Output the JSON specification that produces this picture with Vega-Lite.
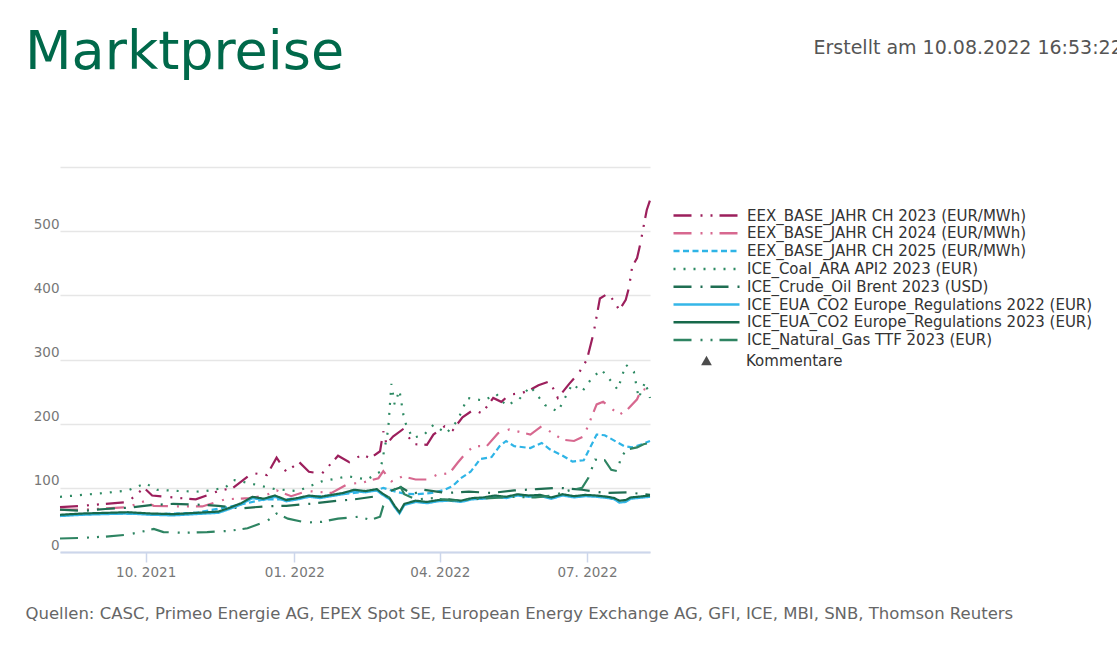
{
  "$schema": "https://vega.github.io/schema/vega-lite/v6.json",
  "width": 590,
  "height": 385,
  "autosize": {"type": "none"},
  "padding": {"left": 60, "top": 167, "right": 467, "bottom": 104},
  "background": "white",
  "title": {"text": "Marktpreise", "anchor": "start", "frame": "group", "dx": -35, "offset": -85, "baseline": "alphabetic", "font": "DejaVu Sans", "fontSize": 54, "fontWeight": "normal", "color": "#00694a"},
  "config": {"view": {"stroke": null}, "font": "DejaVu Sans"},
  "data": {"values": [
    {"s":"EEX_BASE_JAHR CH 2023 (EUR/MWh)","d":"2021-08-09","v":70},
    {"s":"EEX_BASE_JAHR CH 2023 (EUR/MWh)","d":"2021-08-23","v":72},
    {"s":"EEX_BASE_JAHR CH 2023 (EUR/MWh)","d":"2021-09-06","v":75},
    {"s":"EEX_BASE_JAHR CH 2023 (EUR/MWh)","d":"2021-09-20","v":78},
    {"s":"EEX_BASE_JAHR CH 2023 (EUR/MWh)","d":"2021-09-30","v":100},
    {"s":"EEX_BASE_JAHR CH 2023 (EUR/MWh)","d":"2021-10-05","v":88},
    {"s":"EEX_BASE_JAHR CH 2023 (EUR/MWh)","d":"2021-10-18","v":85},
    {"s":"EEX_BASE_JAHR CH 2023 (EUR/MWh)","d":"2021-11-01","v":82},
    {"s":"EEX_BASE_JAHR CH 2023 (EUR/MWh)","d":"2021-11-15","v":95},
    {"s":"EEX_BASE_JAHR CH 2023 (EUR/MWh)","d":"2021-11-24","v":100},
    {"s":"EEX_BASE_JAHR CH 2023 (EUR/MWh)","d":"2021-12-06","v":123},
    {"s":"EEX_BASE_JAHR CH 2023 (EUR/MWh)","d":"2021-12-15","v":120},
    {"s":"EEX_BASE_JAHR CH 2023 (EUR/MWh)","d":"2021-12-21","v":147},
    {"s":"EEX_BASE_JAHR CH 2023 (EUR/MWh)","d":"2021-12-27","v":125},
    {"s":"EEX_BASE_JAHR CH 2023 (EUR/MWh)","d":"2022-01-04","v":140},
    {"s":"EEX_BASE_JAHR CH 2023 (EUR/MWh)","d":"2022-01-10","v":125},
    {"s":"EEX_BASE_JAHR CH 2023 (EUR/MWh)","d":"2022-01-18","v":122},
    {"s":"EEX_BASE_JAHR CH 2023 (EUR/MWh)","d":"2022-01-28","v":150},
    {"s":"EEX_BASE_JAHR CH 2023 (EUR/MWh)","d":"2022-02-04","v":140},
    {"s":"EEX_BASE_JAHR CH 2023 (EUR/MWh)","d":"2022-02-12","v":152},
    {"s":"EEX_BASE_JAHR CH 2023 (EUR/MWh)","d":"2022-02-17","v":146},
    {"s":"EEX_BASE_JAHR CH 2023 (EUR/MWh)","d":"2022-02-23","v":157},
    {"s":"EEX_BASE_JAHR CH 2023 (EUR/MWh)","d":"2022-02-25","v":188},
    {"s":"EEX_BASE_JAHR CH 2023 (EUR/MWh)","d":"2022-02-27","v":168},
    {"s":"EEX_BASE_JAHR CH 2023 (EUR/MWh)","d":"2022-03-03","v":180},
    {"s":"EEX_BASE_JAHR CH 2023 (EUR/MWh)","d":"2022-03-09","v":191},
    {"s":"EEX_BASE_JAHR CH 2023 (EUR/MWh)","d":"2022-03-16","v":168},
    {"s":"EEX_BASE_JAHR CH 2023 (EUR/MWh)","d":"2022-03-24","v":167},
    {"s":"EEX_BASE_JAHR CH 2023 (EUR/MWh)","d":"2022-03-28","v":183},
    {"s":"EEX_BASE_JAHR CH 2023 (EUR/MWh)","d":"2022-04-04","v":196},
    {"s":"EEX_BASE_JAHR CH 2023 (EUR/MWh)","d":"2022-04-09","v":190},
    {"s":"EEX_BASE_JAHR CH 2023 (EUR/MWh)","d":"2022-04-15","v":210},
    {"s":"EEX_BASE_JAHR CH 2023 (EUR/MWh)","d":"2022-04-22","v":222},
    {"s":"EEX_BASE_JAHR CH 2023 (EUR/MWh)","d":"2022-04-27","v":216},
    {"s":"EEX_BASE_JAHR CH 2023 (EUR/MWh)","d":"2022-05-04","v":240},
    {"s":"EEX_BASE_JAHR CH 2023 (EUR/MWh)","d":"2022-05-09","v":234},
    {"s":"EEX_BASE_JAHR CH 2023 (EUR/MWh)","d":"2022-05-14","v":245},
    {"s":"EEX_BASE_JAHR CH 2023 (EUR/MWh)","d":"2022-05-22","v":248},
    {"s":"EEX_BASE_JAHR CH 2023 (EUR/MWh)","d":"2022-05-27","v":253},
    {"s":"EEX_BASE_JAHR CH 2023 (EUR/MWh)","d":"2022-06-01","v":260},
    {"s":"EEX_BASE_JAHR CH 2023 (EUR/MWh)","d":"2022-06-08","v":266},
    {"s":"EEX_BASE_JAHR CH 2023 (EUR/MWh)","d":"2022-06-13","v":240},
    {"s":"EEX_BASE_JAHR CH 2023 (EUR/MWh)","d":"2022-06-20","v":262},
    {"s":"EEX_BASE_JAHR CH 2023 (EUR/MWh)","d":"2022-06-26","v":279},
    {"s":"EEX_BASE_JAHR CH 2023 (EUR/MWh)","d":"2022-07-01","v":300},
    {"s":"EEX_BASE_JAHR CH 2023 (EUR/MWh)","d":"2022-07-05","v":340},
    {"s":"EEX_BASE_JAHR CH 2023 (EUR/MWh)","d":"2022-07-09","v":395},
    {"s":"EEX_BASE_JAHR CH 2023 (EUR/MWh)","d":"2022-07-14","v":403},
    {"s":"EEX_BASE_JAHR CH 2023 (EUR/MWh)","d":"2022-07-18","v":390},
    {"s":"EEX_BASE_JAHR CH 2023 (EUR/MWh)","d":"2022-07-21","v":377},
    {"s":"EEX_BASE_JAHR CH 2023 (EUR/MWh)","d":"2022-07-25","v":393},
    {"s":"EEX_BASE_JAHR CH 2023 (EUR/MWh)","d":"2022-07-27","v":412},
    {"s":"EEX_BASE_JAHR CH 2023 (EUR/MWh)","d":"2022-07-29","v":445},
    {"s":"EEX_BASE_JAHR CH 2023 (EUR/MWh)","d":"2022-08-01","v":458},
    {"s":"EEX_BASE_JAHR CH 2023 (EUR/MWh)","d":"2022-08-03","v":480},
    {"s":"EEX_BASE_JAHR CH 2023 (EUR/MWh)","d":"2022-08-05","v":507},
    {"s":"EEX_BASE_JAHR CH 2023 (EUR/MWh)","d":"2022-08-07","v":533},
    {"s":"EEX_BASE_JAHR CH 2023 (EUR/MWh)","d":"2022-08-09","v":548},

    {"s":"EEX_BASE_JAHR CH 2024 (EUR/MWh)","d":"2021-08-09","v":66},
    {"s":"EEX_BASE_JAHR CH 2024 (EUR/MWh)","d":"2021-08-23","v":66},
    {"s":"EEX_BASE_JAHR CH 2024 (EUR/MWh)","d":"2021-09-06","v":68},
    {"s":"EEX_BASE_JAHR CH 2024 (EUR/MWh)","d":"2021-09-20","v":70},
    {"s":"EEX_BASE_JAHR CH 2024 (EUR/MWh)","d":"2021-09-30","v":79},
    {"s":"EEX_BASE_JAHR CH 2024 (EUR/MWh)","d":"2021-10-06","v":72},
    {"s":"EEX_BASE_JAHR CH 2024 (EUR/MWh)","d":"2021-10-20","v":71},
    {"s":"EEX_BASE_JAHR CH 2024 (EUR/MWh)","d":"2021-11-05","v":71},
    {"s":"EEX_BASE_JAHR CH 2024 (EUR/MWh)","d":"2021-11-19","v":82},
    {"s":"EEX_BASE_JAHR CH 2024 (EUR/MWh)","d":"2021-12-04","v":84},
    {"s":"EEX_BASE_JAHR CH 2024 (EUR/MWh)","d":"2021-12-14","v":88},
    {"s":"EEX_BASE_JAHR CH 2024 (EUR/MWh)","d":"2021-12-21","v":96},
    {"s":"EEX_BASE_JAHR CH 2024 (EUR/MWh)","d":"2021-12-30","v":87},
    {"s":"EEX_BASE_JAHR CH 2024 (EUR/MWh)","d":"2022-01-09","v":95},
    {"s":"EEX_BASE_JAHR CH 2024 (EUR/MWh)","d":"2022-01-24","v":92},
    {"s":"EEX_BASE_JAHR CH 2024 (EUR/MWh)","d":"2022-02-03","v":106},
    {"s":"EEX_BASE_JAHR CH 2024 (EUR/MWh)","d":"2022-02-12","v":108},
    {"s":"EEX_BASE_JAHR CH 2024 (EUR/MWh)","d":"2022-02-22","v":115},
    {"s":"EEX_BASE_JAHR CH 2024 (EUR/MWh)","d":"2022-02-25","v":126},
    {"s":"EEX_BASE_JAHR CH 2024 (EUR/MWh)","d":"2022-03-02","v":110},
    {"s":"EEX_BASE_JAHR CH 2024 (EUR/MWh)","d":"2022-03-09","v":118},
    {"s":"EEX_BASE_JAHR CH 2024 (EUR/MWh)","d":"2022-03-17","v":113},
    {"s":"EEX_BASE_JAHR CH 2024 (EUR/MWh)","d":"2022-03-24","v":113},
    {"s":"EEX_BASE_JAHR CH 2024 (EUR/MWh)","d":"2022-03-30","v":120},
    {"s":"EEX_BASE_JAHR CH 2024 (EUR/MWh)","d":"2022-04-07","v":123},
    {"s":"EEX_BASE_JAHR CH 2024 (EUR/MWh)","d":"2022-04-12","v":139},
    {"s":"EEX_BASE_JAHR CH 2024 (EUR/MWh)","d":"2022-04-17","v":154},
    {"s":"EEX_BASE_JAHR CH 2024 (EUR/MWh)","d":"2022-04-22","v":165},
    {"s":"EEX_BASE_JAHR CH 2024 (EUR/MWh)","d":"2022-04-30","v":165},
    {"s":"EEX_BASE_JAHR CH 2024 (EUR/MWh)","d":"2022-05-07","v":185},
    {"s":"EEX_BASE_JAHR CH 2024 (EUR/MWh)","d":"2022-05-14","v":191},
    {"s":"EEX_BASE_JAHR CH 2024 (EUR/MWh)","d":"2022-05-19","v":188},
    {"s":"EEX_BASE_JAHR CH 2024 (EUR/MWh)","d":"2022-05-27","v":183},
    {"s":"EEX_BASE_JAHR CH 2024 (EUR/MWh)","d":"2022-06-03","v":196},
    {"s":"EEX_BASE_JAHR CH 2024 (EUR/MWh)","d":"2022-06-08","v":188},
    {"s":"EEX_BASE_JAHR CH 2024 (EUR/MWh)","d":"2022-06-16","v":175},
    {"s":"EEX_BASE_JAHR CH 2024 (EUR/MWh)","d":"2022-06-23","v":173},
    {"s":"EEX_BASE_JAHR CH 2024 (EUR/MWh)","d":"2022-06-29","v":180},
    {"s":"EEX_BASE_JAHR CH 2024 (EUR/MWh)","d":"2022-07-03","v":205},
    {"s":"EEX_BASE_JAHR CH 2024 (EUR/MWh)","d":"2022-07-07","v":230},
    {"s":"EEX_BASE_JAHR CH 2024 (EUR/MWh)","d":"2022-07-11","v":234},
    {"s":"EEX_BASE_JAHR CH 2024 (EUR/MWh)","d":"2022-07-17","v":222},
    {"s":"EEX_BASE_JAHR CH 2024 (EUR/MWh)","d":"2022-07-21","v":214},
    {"s":"EEX_BASE_JAHR CH 2024 (EUR/MWh)","d":"2022-07-26","v":222},
    {"s":"EEX_BASE_JAHR CH 2024 (EUR/MWh)","d":"2022-08-01","v":238},
    {"s":"EEX_BASE_JAHR CH 2024 (EUR/MWh)","d":"2022-08-04","v":255},
    {"s":"EEX_BASE_JAHR CH 2024 (EUR/MWh)","d":"2022-08-09","v":250},

    {"s":"EEX_BASE_JAHR CH 2025 (EUR/MWh)","d":"2021-08-09","v":57},
    {"s":"EEX_BASE_JAHR CH 2025 (EUR/MWh)","d":"2021-09-06","v":60},
    {"s":"EEX_BASE_JAHR CH 2025 (EUR/MWh)","d":"2021-10-04","v":59},
    {"s":"EEX_BASE_JAHR CH 2025 (EUR/MWh)","d":"2021-11-01","v":61},
    {"s":"EEX_BASE_JAHR CH 2025 (EUR/MWh)","d":"2021-11-29","v":74},
    {"s":"EEX_BASE_JAHR CH 2025 (EUR/MWh)","d":"2021-12-13","v":82},
    {"s":"EEX_BASE_JAHR CH 2025 (EUR/MWh)","d":"2021-12-27","v":82},
    {"s":"EEX_BASE_JAHR CH 2025 (EUR/MWh)","d":"2022-01-10","v":86},
    {"s":"EEX_BASE_JAHR CH 2025 (EUR/MWh)","d":"2022-01-24","v":88},
    {"s":"EEX_BASE_JAHR CH 2025 (EUR/MWh)","d":"2022-02-07","v":92},
    {"s":"EEX_BASE_JAHR CH 2025 (EUR/MWh)","d":"2022-02-21","v":96},
    {"s":"EEX_BASE_JAHR CH 2025 (EUR/MWh)","d":"2022-02-25","v":100},
    {"s":"EEX_BASE_JAHR CH 2025 (EUR/MWh)","d":"2022-03-03","v":95},
    {"s":"EEX_BASE_JAHR CH 2025 (EUR/MWh)","d":"2022-03-10","v":91},
    {"s":"EEX_BASE_JAHR CH 2025 (EUR/MWh)","d":"2022-03-17","v":90},
    {"s":"EEX_BASE_JAHR CH 2025 (EUR/MWh)","d":"2022-03-27","v":92},
    {"s":"EEX_BASE_JAHR CH 2025 (EUR/MWh)","d":"2022-04-04","v":97},
    {"s":"EEX_BASE_JAHR CH 2025 (EUR/MWh)","d":"2022-04-09","v":103},
    {"s":"EEX_BASE_JAHR CH 2025 (EUR/MWh)","d":"2022-04-14","v":115},
    {"s":"EEX_BASE_JAHR CH 2025 (EUR/MWh)","d":"2022-04-20","v":125},
    {"s":"EEX_BASE_JAHR CH 2025 (EUR/MWh)","d":"2022-04-26","v":145},
    {"s":"EEX_BASE_JAHR CH 2025 (EUR/MWh)","d":"2022-05-03","v":148},
    {"s":"EEX_BASE_JAHR CH 2025 (EUR/MWh)","d":"2022-05-08","v":165},
    {"s":"EEX_BASE_JAHR CH 2025 (EUR/MWh)","d":"2022-05-12","v":173},
    {"s":"EEX_BASE_JAHR CH 2025 (EUR/MWh)","d":"2022-05-17","v":165},
    {"s":"EEX_BASE_JAHR CH 2025 (EUR/MWh)","d":"2022-05-27","v":162},
    {"s":"EEX_BASE_JAHR CH 2025 (EUR/MWh)","d":"2022-06-03","v":170},
    {"s":"EEX_BASE_JAHR CH 2025 (EUR/MWh)","d":"2022-06-08","v":160},
    {"s":"EEX_BASE_JAHR CH 2025 (EUR/MWh)","d":"2022-06-16","v":150},
    {"s":"EEX_BASE_JAHR CH 2025 (EUR/MWh)","d":"2022-06-22","v":141},
    {"s":"EEX_BASE_JAHR CH 2025 (EUR/MWh)","d":"2022-06-29","v":143},
    {"s":"EEX_BASE_JAHR CH 2025 (EUR/MWh)","d":"2022-07-03","v":163},
    {"s":"EEX_BASE_JAHR CH 2025 (EUR/MWh)","d":"2022-07-07","v":183},
    {"s":"EEX_BASE_JAHR CH 2025 (EUR/MWh)","d":"2022-07-12","v":182},
    {"s":"EEX_BASE_JAHR CH 2025 (EUR/MWh)","d":"2022-07-19","v":172},
    {"s":"EEX_BASE_JAHR CH 2025 (EUR/MWh)","d":"2022-07-24","v":165},
    {"s":"EEX_BASE_JAHR CH 2025 (EUR/MWh)","d":"2022-07-29","v":163},
    {"s":"EEX_BASE_JAHR CH 2025 (EUR/MWh)","d":"2022-08-04","v":168},
    {"s":"EEX_BASE_JAHR CH 2025 (EUR/MWh)","d":"2022-08-09","v":173},

    {"s":"ICE_Coal_ARA API2 2023 (EUR)","d":"2021-08-09","v":86},
    {"s":"ICE_Coal_ARA API2 2023 (EUR)","d":"2021-08-23","v":89},
    {"s":"ICE_Coal_ARA API2 2023 (EUR)","d":"2021-09-06","v":92},
    {"s":"ICE_Coal_ARA API2 2023 (EUR)","d":"2021-09-20","v":96},
    {"s":"ICE_Coal_ARA API2 2023 (EUR)","d":"2021-10-01","v":107},
    {"s":"ICE_Coal_ARA API2 2023 (EUR)","d":"2021-10-08","v":97},
    {"s":"ICE_Coal_ARA API2 2023 (EUR)","d":"2021-10-22","v":95},
    {"s":"ICE_Coal_ARA API2 2023 (EUR)","d":"2021-11-05","v":94},
    {"s":"ICE_Coal_ARA API2 2023 (EUR)","d":"2021-11-19","v":100},
    {"s":"ICE_Coal_ARA API2 2023 (EUR)","d":"2021-11-25","v":112},
    {"s":"ICE_Coal_ARA API2 2023 (EUR)","d":"2021-12-08","v":105},
    {"s":"ICE_Coal_ARA API2 2023 (EUR)","d":"2021-12-20","v":98},
    {"s":"ICE_Coal_ARA API2 2023 (EUR)","d":"2022-01-03","v":95},
    {"s":"ICE_Coal_ARA API2 2023 (EUR)","d":"2022-01-18","v":110},
    {"s":"ICE_Coal_ARA API2 2023 (EUR)","d":"2022-02-03","v":118},
    {"s":"ICE_Coal_ARA API2 2023 (EUR)","d":"2022-02-15","v":113},
    {"s":"ICE_Coal_ARA API2 2023 (EUR)","d":"2022-02-23","v":125},
    {"s":"ICE_Coal_ARA API2 2023 (EUR)","d":"2022-02-28","v":190},
    {"s":"ICE_Coal_ARA API2 2023 (EUR)","d":"2022-03-02","v":262},
    {"s":"ICE_Coal_ARA API2 2023 (EUR)","d":"2022-03-04","v":230},
    {"s":"ICE_Coal_ARA API2 2023 (EUR)","d":"2022-03-07","v":252},
    {"s":"ICE_Coal_ARA API2 2023 (EUR)","d":"2022-03-10","v":205},
    {"s":"ICE_Coal_ARA API2 2023 (EUR)","d":"2022-03-15","v":178},
    {"s":"ICE_Coal_ARA API2 2023 (EUR)","d":"2022-03-22","v":182},
    {"s":"ICE_Coal_ARA API2 2023 (EUR)","d":"2022-03-28","v":198},
    {"s":"ICE_Coal_ARA API2 2023 (EUR)","d":"2022-04-05","v":185},
    {"s":"ICE_Coal_ARA API2 2023 (EUR)","d":"2022-04-12","v":205},
    {"s":"ICE_Coal_ARA API2 2023 (EUR)","d":"2022-04-18","v":240},
    {"s":"ICE_Coal_ARA API2 2023 (EUR)","d":"2022-04-28","v":236},
    {"s":"ICE_Coal_ARA API2 2023 (EUR)","d":"2022-05-06","v":246},
    {"s":"ICE_Coal_ARA API2 2023 (EUR)","d":"2022-05-12","v":228},
    {"s":"ICE_Coal_ARA API2 2023 (EUR)","d":"2022-05-20","v":238},
    {"s":"ICE_Coal_ARA API2 2023 (EUR)","d":"2022-05-27","v":258},
    {"s":"ICE_Coal_ARA API2 2023 (EUR)","d":"2022-06-05","v":229},
    {"s":"ICE_Coal_ARA API2 2023 (EUR)","d":"2022-06-13","v":219},
    {"s":"ICE_Coal_ARA API2 2023 (EUR)","d":"2022-06-22","v":262},
    {"s":"ICE_Coal_ARA API2 2023 (EUR)","d":"2022-06-28","v":250},
    {"s":"ICE_Coal_ARA API2 2023 (EUR)","d":"2022-07-04","v":271},
    {"s":"ICE_Coal_ARA API2 2023 (EUR)","d":"2022-07-10","v":284},
    {"s":"ICE_Coal_ARA API2 2023 (EUR)","d":"2022-07-16","v":266},
    {"s":"ICE_Coal_ARA API2 2023 (EUR)","d":"2022-07-20","v":253},
    {"s":"ICE_Coal_ARA API2 2023 (EUR)","d":"2022-07-25","v":292},
    {"s":"ICE_Coal_ARA API2 2023 (EUR)","d":"2022-07-30","v":281},
    {"s":"ICE_Coal_ARA API2 2023 (EUR)","d":"2022-08-02","v":240},
    {"s":"ICE_Coal_ARA API2 2023 (EUR)","d":"2022-08-06","v":265},
    {"s":"ICE_Coal_ARA API2 2023 (EUR)","d":"2022-08-09","v":240},

    {"s":"ICE_Crude_Oil Brent 2023 (USD)","d":"2021-08-09","v":66},
    {"s":"ICE_Crude_Oil Brent 2023 (USD)","d":"2021-08-23","v":64},
    {"s":"ICE_Crude_Oil Brent 2023 (USD)","d":"2021-09-06","v":67},
    {"s":"ICE_Crude_Oil Brent 2023 (USD)","d":"2021-09-20","v":69},
    {"s":"ICE_Crude_Oil Brent 2023 (USD)","d":"2021-10-04","v":73},
    {"s":"ICE_Crude_Oil Brent 2023 (USD)","d":"2021-10-18","v":75},
    {"s":"ICE_Crude_Oil Brent 2023 (USD)","d":"2021-11-01","v":74},
    {"s":"ICE_Crude_Oil Brent 2023 (USD)","d":"2021-11-15","v":72},
    {"s":"ICE_Crude_Oil Brent 2023 (USD)","d":"2021-11-29","v":68},
    {"s":"ICE_Crude_Oil Brent 2023 (USD)","d":"2021-12-13","v":71},
    {"s":"ICE_Crude_Oil Brent 2023 (USD)","d":"2021-12-27","v":72},
    {"s":"ICE_Crude_Oil Brent 2023 (USD)","d":"2022-01-10","v":75},
    {"s":"ICE_Crude_Oil Brent 2023 (USD)","d":"2022-01-24","v":79},
    {"s":"ICE_Crude_Oil Brent 2023 (USD)","d":"2022-02-07","v":82},
    {"s":"ICE_Crude_Oil Brent 2023 (USD)","d":"2022-02-21","v":87},
    {"s":"ICE_Crude_Oil Brent 2023 (USD)","d":"2022-03-01","v":95},
    {"s":"ICE_Crude_Oil Brent 2023 (USD)","d":"2022-03-08","v":101},
    {"s":"ICE_Crude_Oil Brent 2023 (USD)","d":"2022-03-15","v":90},
    {"s":"ICE_Crude_Oil Brent 2023 (USD)","d":"2022-03-22","v":97},
    {"s":"ICE_Crude_Oil Brent 2023 (USD)","d":"2022-04-05","v":92},
    {"s":"ICE_Crude_Oil Brent 2023 (USD)","d":"2022-04-19","v":94},
    {"s":"ICE_Crude_Oil Brent 2023 (USD)","d":"2022-05-03","v":92},
    {"s":"ICE_Crude_Oil Brent 2023 (USD)","d":"2022-05-17","v":96},
    {"s":"ICE_Crude_Oil Brent 2023 (USD)","d":"2022-05-31","v":98},
    {"s":"ICE_Crude_Oil Brent 2023 (USD)","d":"2022-06-14","v":100},
    {"s":"ICE_Crude_Oil Brent 2023 (USD)","d":"2022-06-28","v":97},
    {"s":"ICE_Crude_Oil Brent 2023 (USD)","d":"2022-07-12","v":92},
    {"s":"ICE_Crude_Oil Brent 2023 (USD)","d":"2022-07-26","v":93},
    {"s":"ICE_Crude_Oil Brent 2023 (USD)","d":"2022-08-09","v":89},

    {"s":"ICE_EUA_CO2 Europe_Regulations 2022 (EUR)","d":"2021-08-09","v":56},
    {"s":"ICE_EUA_CO2 Europe_Regulations 2022 (EUR)","d":"2021-08-23","v":58},
    {"s":"ICE_EUA_CO2 Europe_Regulations 2022 (EUR)","d":"2021-09-06","v":59},
    {"s":"ICE_EUA_CO2 Europe_Regulations 2022 (EUR)","d":"2021-09-20","v":60},
    {"s":"ICE_EUA_CO2 Europe_Regulations 2022 (EUR)","d":"2021-10-04","v":58},
    {"s":"ICE_EUA_CO2 Europe_Regulations 2022 (EUR)","d":"2021-10-18","v":57},
    {"s":"ICE_EUA_CO2 Europe_Regulations 2022 (EUR)","d":"2021-11-01","v":59},
    {"s":"ICE_EUA_CO2 Europe_Regulations 2022 (EUR)","d":"2021-11-15","v":61},
    {"s":"ICE_EUA_CO2 Europe_Regulations 2022 (EUR)","d":"2021-11-22","v":67},
    {"s":"ICE_EUA_CO2 Europe_Regulations 2022 (EUR)","d":"2021-11-29","v":74},
    {"s":"ICE_EUA_CO2 Europe_Regulations 2022 (EUR)","d":"2021-12-06","v":84},
    {"s":"ICE_EUA_CO2 Europe_Regulations 2022 (EUR)","d":"2021-12-13","v":81},
    {"s":"ICE_EUA_CO2 Europe_Regulations 2022 (EUR)","d":"2021-12-20","v":86},
    {"s":"ICE_EUA_CO2 Europe_Regulations 2022 (EUR)","d":"2021-12-27","v":79},
    {"s":"ICE_EUA_CO2 Europe_Regulations 2022 (EUR)","d":"2022-01-03","v":82},
    {"s":"ICE_EUA_CO2 Europe_Regulations 2022 (EUR)","d":"2022-01-10","v":86},
    {"s":"ICE_EUA_CO2 Europe_Regulations 2022 (EUR)","d":"2022-01-17","v":84},
    {"s":"ICE_EUA_CO2 Europe_Regulations 2022 (EUR)","d":"2022-01-24","v":87},
    {"s":"ICE_EUA_CO2 Europe_Regulations 2022 (EUR)","d":"2022-01-31","v":90},
    {"s":"ICE_EUA_CO2 Europe_Regulations 2022 (EUR)","d":"2022-02-07","v":95},
    {"s":"ICE_EUA_CO2 Europe_Regulations 2022 (EUR)","d":"2022-02-14","v":93},
    {"s":"ICE_EUA_CO2 Europe_Regulations 2022 (EUR)","d":"2022-02-21","v":96},
    {"s":"ICE_EUA_CO2 Europe_Regulations 2022 (EUR)","d":"2022-02-24","v":90},
    {"s":"ICE_EUA_CO2 Europe_Regulations 2022 (EUR)","d":"2022-03-01","v":82},
    {"s":"ICE_EUA_CO2 Europe_Regulations 2022 (EUR)","d":"2022-03-04","v":70},
    {"s":"ICE_EUA_CO2 Europe_Regulations 2022 (EUR)","d":"2022-03-07","v":60},
    {"s":"ICE_EUA_CO2 Europe_Regulations 2022 (EUR)","d":"2022-03-10","v":73},
    {"s":"ICE_EUA_CO2 Europe_Regulations 2022 (EUR)","d":"2022-03-17","v":78},
    {"s":"ICE_EUA_CO2 Europe_Regulations 2022 (EUR)","d":"2022-03-24","v":76},
    {"s":"ICE_EUA_CO2 Europe_Regulations 2022 (EUR)","d":"2022-03-31","v":79},
    {"s":"ICE_EUA_CO2 Europe_Regulations 2022 (EUR)","d":"2022-04-07","v":80},
    {"s":"ICE_EUA_CO2 Europe_Regulations 2022 (EUR)","d":"2022-04-14","v":78},
    {"s":"ICE_EUA_CO2 Europe_Regulations 2022 (EUR)","d":"2022-04-21","v":82},
    {"s":"ICE_EUA_CO2 Europe_Regulations 2022 (EUR)","d":"2022-04-28","v":83},
    {"s":"ICE_EUA_CO2 Europe_Regulations 2022 (EUR)","d":"2022-05-05","v":86},
    {"s":"ICE_EUA_CO2 Europe_Regulations 2022 (EUR)","d":"2022-05-12","v":84},
    {"s":"ICE_EUA_CO2 Europe_Regulations 2022 (EUR)","d":"2022-05-19","v":88},
    {"s":"ICE_EUA_CO2 Europe_Regulations 2022 (EUR)","d":"2022-05-26","v":86},
    {"s":"ICE_EUA_CO2 Europe_Regulations 2022 (EUR)","d":"2022-06-02","v":87},
    {"s":"ICE_EUA_CO2 Europe_Regulations 2022 (EUR)","d":"2022-06-09","v":83},
    {"s":"ICE_EUA_CO2 Europe_Regulations 2022 (EUR)","d":"2022-06-16","v":88},
    {"s":"ICE_EUA_CO2 Europe_Regulations 2022 (EUR)","d":"2022-06-23","v":85},
    {"s":"ICE_EUA_CO2 Europe_Regulations 2022 (EUR)","d":"2022-06-30","v":87},
    {"s":"ICE_EUA_CO2 Europe_Regulations 2022 (EUR)","d":"2022-07-07","v":86},
    {"s":"ICE_EUA_CO2 Europe_Regulations 2022 (EUR)","d":"2022-07-14","v":84},
    {"s":"ICE_EUA_CO2 Europe_Regulations 2022 (EUR)","d":"2022-07-18","v":82},
    {"s":"ICE_EUA_CO2 Europe_Regulations 2022 (EUR)","d":"2022-07-21","v":77},
    {"s":"ICE_EUA_CO2 Europe_Regulations 2022 (EUR)","d":"2022-07-25","v":78},
    {"s":"ICE_EUA_CO2 Europe_Regulations 2022 (EUR)","d":"2022-07-28","v":83},
    {"s":"ICE_EUA_CO2 Europe_Regulations 2022 (EUR)","d":"2022-08-01","v":84},
    {"s":"ICE_EUA_CO2 Europe_Regulations 2022 (EUR)","d":"2022-08-05","v":85},
    {"s":"ICE_EUA_CO2 Europe_Regulations 2022 (EUR)","d":"2022-08-09","v":86},

    {"s":"ICE_EUA_CO2 Europe_Regulations 2023 (EUR)","d":"2021-08-09","v":58},
    {"s":"ICE_EUA_CO2 Europe_Regulations 2023 (EUR)","d":"2021-08-23","v":60},
    {"s":"ICE_EUA_CO2 Europe_Regulations 2023 (EUR)","d":"2021-09-06","v":61},
    {"s":"ICE_EUA_CO2 Europe_Regulations 2023 (EUR)","d":"2021-09-20","v":62},
    {"s":"ICE_EUA_CO2 Europe_Regulations 2023 (EUR)","d":"2021-10-04","v":60},
    {"s":"ICE_EUA_CO2 Europe_Regulations 2023 (EUR)","d":"2021-10-18","v":59},
    {"s":"ICE_EUA_CO2 Europe_Regulations 2023 (EUR)","d":"2021-11-01","v":61},
    {"s":"ICE_EUA_CO2 Europe_Regulations 2023 (EUR)","d":"2021-11-15","v":63},
    {"s":"ICE_EUA_CO2 Europe_Regulations 2023 (EUR)","d":"2021-11-22","v":69},
    {"s":"ICE_EUA_CO2 Europe_Regulations 2023 (EUR)","d":"2021-11-29","v":76},
    {"s":"ICE_EUA_CO2 Europe_Regulations 2023 (EUR)","d":"2021-12-06","v":86},
    {"s":"ICE_EUA_CO2 Europe_Regulations 2023 (EUR)","d":"2021-12-13","v":83},
    {"s":"ICE_EUA_CO2 Europe_Regulations 2023 (EUR)","d":"2021-12-20","v":88},
    {"s":"ICE_EUA_CO2 Europe_Regulations 2023 (EUR)","d":"2021-12-27","v":81},
    {"s":"ICE_EUA_CO2 Europe_Regulations 2023 (EUR)","d":"2022-01-03","v":84},
    {"s":"ICE_EUA_CO2 Europe_Regulations 2023 (EUR)","d":"2022-01-10","v":88},
    {"s":"ICE_EUA_CO2 Europe_Regulations 2023 (EUR)","d":"2022-01-17","v":86},
    {"s":"ICE_EUA_CO2 Europe_Regulations 2023 (EUR)","d":"2022-01-24","v":89},
    {"s":"ICE_EUA_CO2 Europe_Regulations 2023 (EUR)","d":"2022-01-31","v":92},
    {"s":"ICE_EUA_CO2 Europe_Regulations 2023 (EUR)","d":"2022-02-07","v":97},
    {"s":"ICE_EUA_CO2 Europe_Regulations 2023 (EUR)","d":"2022-02-14","v":95},
    {"s":"ICE_EUA_CO2 Europe_Regulations 2023 (EUR)","d":"2022-02-21","v":98},
    {"s":"ICE_EUA_CO2 Europe_Regulations 2023 (EUR)","d":"2022-02-24","v":92},
    {"s":"ICE_EUA_CO2 Europe_Regulations 2023 (EUR)","d":"2022-03-01","v":84},
    {"s":"ICE_EUA_CO2 Europe_Regulations 2023 (EUR)","d":"2022-03-04","v":72},
    {"s":"ICE_EUA_CO2 Europe_Regulations 2023 (EUR)","d":"2022-03-07","v":62},
    {"s":"ICE_EUA_CO2 Europe_Regulations 2023 (EUR)","d":"2022-03-10","v":75},
    {"s":"ICE_EUA_CO2 Europe_Regulations 2023 (EUR)","d":"2022-03-17","v":80},
    {"s":"ICE_EUA_CO2 Europe_Regulations 2023 (EUR)","d":"2022-03-24","v":78},
    {"s":"ICE_EUA_CO2 Europe_Regulations 2023 (EUR)","d":"2022-03-31","v":81},
    {"s":"ICE_EUA_CO2 Europe_Regulations 2023 (EUR)","d":"2022-04-07","v":82},
    {"s":"ICE_EUA_CO2 Europe_Regulations 2023 (EUR)","d":"2022-04-14","v":80},
    {"s":"ICE_EUA_CO2 Europe_Regulations 2023 (EUR)","d":"2022-04-21","v":84},
    {"s":"ICE_EUA_CO2 Europe_Regulations 2023 (EUR)","d":"2022-04-28","v":85},
    {"s":"ICE_EUA_CO2 Europe_Regulations 2023 (EUR)","d":"2022-05-05","v":88},
    {"s":"ICE_EUA_CO2 Europe_Regulations 2023 (EUR)","d":"2022-05-12","v":86},
    {"s":"ICE_EUA_CO2 Europe_Regulations 2023 (EUR)","d":"2022-05-19","v":90},
    {"s":"ICE_EUA_CO2 Europe_Regulations 2023 (EUR)","d":"2022-05-26","v":88},
    {"s":"ICE_EUA_CO2 Europe_Regulations 2023 (EUR)","d":"2022-06-02","v":89},
    {"s":"ICE_EUA_CO2 Europe_Regulations 2023 (EUR)","d":"2022-06-09","v":85},
    {"s":"ICE_EUA_CO2 Europe_Regulations 2023 (EUR)","d":"2022-06-16","v":90},
    {"s":"ICE_EUA_CO2 Europe_Regulations 2023 (EUR)","d":"2022-06-23","v":87},
    {"s":"ICE_EUA_CO2 Europe_Regulations 2023 (EUR)","d":"2022-06-30","v":89},
    {"s":"ICE_EUA_CO2 Europe_Regulations 2023 (EUR)","d":"2022-07-07","v":88},
    {"s":"ICE_EUA_CO2 Europe_Regulations 2023 (EUR)","d":"2022-07-14","v":86},
    {"s":"ICE_EUA_CO2 Europe_Regulations 2023 (EUR)","d":"2022-07-18","v":84},
    {"s":"ICE_EUA_CO2 Europe_Regulations 2023 (EUR)","d":"2022-07-21","v":80},
    {"s":"ICE_EUA_CO2 Europe_Regulations 2023 (EUR)","d":"2022-07-25","v":81},
    {"s":"ICE_EUA_CO2 Europe_Regulations 2023 (EUR)","d":"2022-07-28","v":85},
    {"s":"ICE_EUA_CO2 Europe_Regulations 2023 (EUR)","d":"2022-08-01","v":86},
    {"s":"ICE_EUA_CO2 Europe_Regulations 2023 (EUR)","d":"2022-08-05","v":87},
    {"s":"ICE_EUA_CO2 Europe_Regulations 2023 (EUR)","d":"2022-08-09","v":88},

    {"s":"ICE_Natural_Gas TTF 2023 (EUR)","d":"2021-08-09","v":21},
    {"s":"ICE_Natural_Gas TTF 2023 (EUR)","d":"2021-08-23","v":22},
    {"s":"ICE_Natural_Gas TTF 2023 (EUR)","d":"2021-09-06","v":24},
    {"s":"ICE_Natural_Gas TTF 2023 (EUR)","d":"2021-09-20","v":27},
    {"s":"ICE_Natural_Gas TTF 2023 (EUR)","d":"2021-10-01","v":33},
    {"s":"ICE_Natural_Gas TTF 2023 (EUR)","d":"2021-10-06","v":36},
    {"s":"ICE_Natural_Gas TTF 2023 (EUR)","d":"2021-10-12","v":31},
    {"s":"ICE_Natural_Gas TTF 2023 (EUR)","d":"2021-10-25","v":30},
    {"s":"ICE_Natural_Gas TTF 2023 (EUR)","d":"2021-11-08","v":31},
    {"s":"ICE_Natural_Gas TTF 2023 (EUR)","d":"2021-11-22","v":33},
    {"s":"ICE_Natural_Gas TTF 2023 (EUR)","d":"2021-12-03","v":37},
    {"s":"ICE_Natural_Gas TTF 2023 (EUR)","d":"2021-12-15","v":48},
    {"s":"ICE_Natural_Gas TTF 2023 (EUR)","d":"2021-12-21","v":60},
    {"s":"ICE_Natural_Gas TTF 2023 (EUR)","d":"2021-12-28","v":52},
    {"s":"ICE_Natural_Gas TTF 2023 (EUR)","d":"2022-01-08","v":46},
    {"s":"ICE_Natural_Gas TTF 2023 (EUR)","d":"2022-01-18","v":47},
    {"s":"ICE_Natural_Gas TTF 2023 (EUR)","d":"2022-01-28","v":52},
    {"s":"ICE_Natural_Gas TTF 2023 (EUR)","d":"2022-02-10","v":55},
    {"s":"ICE_Natural_Gas TTF 2023 (EUR)","d":"2022-02-17","v":50},
    {"s":"ICE_Natural_Gas TTF 2023 (EUR)","d":"2022-02-23","v":55},
    {"s":"ICE_Natural_Gas TTF 2023 (EUR)","d":"2022-02-25","v":72},
    {"s":"ICE_Natural_Gas TTF 2023 (EUR)","d":"2022-03-02","v":92},
    {"s":"ICE_Natural_Gas TTF 2023 (EUR)","d":"2022-03-07","v":105},
    {"s":"ICE_Natural_Gas TTF 2023 (EUR)","d":"2022-03-10","v":90},
    {"s":"ICE_Natural_Gas TTF 2023 (EUR)","d":"2022-03-17","v":82},
    {"s":"ICE_Natural_Gas TTF 2023 (EUR)","d":"2022-03-28","v":84},
    {"s":"ICE_Natural_Gas TTF 2023 (EUR)","d":"2022-04-08","v":80},
    {"s":"ICE_Natural_Gas TTF 2023 (EUR)","d":"2022-04-20","v":82},
    {"s":"ICE_Natural_Gas TTF 2023 (EUR)","d":"2022-05-02","v":84},
    {"s":"ICE_Natural_Gas TTF 2023 (EUR)","d":"2022-05-16","v":86},
    {"s":"ICE_Natural_Gas TTF 2023 (EUR)","d":"2022-05-30","v":85},
    {"s":"ICE_Natural_Gas TTF 2023 (EUR)","d":"2022-06-10","v":88},
    {"s":"ICE_Natural_Gas TTF 2023 (EUR)","d":"2022-06-20","v":96},
    {"s":"ICE_Natural_Gas TTF 2023 (EUR)","d":"2022-06-28","v":100},
    {"s":"ICE_Natural_Gas TTF 2023 (EUR)","d":"2022-07-02","v":116},
    {"s":"ICE_Natural_Gas TTF 2023 (EUR)","d":"2022-07-06","v":144},
    {"s":"ICE_Natural_Gas TTF 2023 (EUR)","d":"2022-07-12","v":143},
    {"s":"ICE_Natural_Gas TTF 2023 (EUR)","d":"2022-07-16","v":128},
    {"s":"ICE_Natural_Gas TTF 2023 (EUR)","d":"2022-07-20","v":126},
    {"s":"ICE_Natural_Gas TTF 2023 (EUR)","d":"2022-07-22","v":148},
    {"s":"ICE_Natural_Gas TTF 2023 (EUR)","d":"2022-07-26","v":160},
    {"s":"ICE_Natural_Gas TTF 2023 (EUR)","d":"2022-08-01","v":163},
    {"s":"ICE_Natural_Gas TTF 2023 (EUR)","d":"2022-08-05","v":168},
    {"s":"ICE_Natural_Gas TTF 2023 (EUR)","d":"2022-08-09","v":170}
  ]},
  "layer": [
    {
      "mark": {"type": "line", "strokeWidth": 2.2},
      "encoding": {
        "x": {
          "field": "d", "type": "temporal",
          "scale": {"type": "utc", "domain": [{"year": 2021, "month": 8, "date": 9, "utc": true}, {"year": 2022, "month": 8, "date": 9, "utc": true}]},
          "axis": {
            "values": [{"year": 2021, "month": 10, "date": 1, "utc": true}, {"year": 2022, "month": 1, "date": 1, "utc": true}, {"year": 2022, "month": 4, "date": 1, "utc": true}, {"year": 2022, "month": 7, "date": 1, "utc": true}],
            "labelExpr": "utcFormat(datum.value, '%m. %Y')",
            "grid": false,
            "domainColor": "#ccd6eb", "domainWidth": 2,
            "tickColor": "#ccd6eb", "tickSize": 10, "tickWidth": 1.5,
            "labelFontSize": 13.5, "labelColor": "#777777", "labelPadding": 3,
            "title": "Quellen: CASC, Primeo Energie AG, EPEX Spot SE, European Energy Exchange AG, GFI, ICE, MBI, SNB, Thomson Reuters",
            "titleX": -35, "titleY": 66, "titleAlign": "left", "titleBaseline": "alphabetic",
            "titleFontSize": 16.5, "titleFontWeight": "normal", "titleColor": "#666666"
          }
        },
        "y": {
          "field": "v", "type": "quantitative",
          "scale": {"domain": [0, 600], "nice": false},
          "axis": {
            "values": [0, 100, 200, 300, 400, 500, 600],
            "labelExpr": "datum.value == 600 ? '' : datum.label",
            "grid": true, "gridColor": "#e6e6e6", "gridWidth": 1.5,
            "domain": false, "ticks": false,
            "labelFontSize": 13.5, "labelColor": "#777777", "labelPadding": 1,
            "labelBaseline": "alphabetic", "labelOffset": -3,
            "title": "Erstellt am 10.08.2022 16:53:22",
            "titleAngle": 0, "titleX": 753, "titleY": -114, "titleAlign": "left", "titleBaseline": "alphabetic",
            "titleFontSize": 19, "titleFontWeight": "normal", "titleColor": "#555555"
          }
        },
        "color": {
          "field": "s", "type": "nominal",
          "scale": {
            "domain": ["EEX_BASE_JAHR CH 2023 (EUR/MWh)", "EEX_BASE_JAHR CH 2024 (EUR/MWh)", "EEX_BASE_JAHR CH 2025 (EUR/MWh)", "ICE_Coal_ARA API2 2023 (EUR)", "ICE_Crude_Oil Brent 2023 (USD)", "ICE_EUA_CO2 Europe_Regulations 2022 (EUR)", "ICE_EUA_CO2 Europe_Regulations 2023 (EUR)", "ICE_Natural_Gas TTF 2023 (EUR)"],
            "range": ["#9c1f5c", "#d7688f", "#2eb4e6", "#2d8a63", "#1f6e52", "#35b6e8", "#17694b", "#2e8462"]
          },
          "legend": {
            "title": null, "orient": "none", "legendX": 639, "legendY": 41,
            "symbolType": "M-5.5,0L5.5,0", "symbolSize": 144, "symbolStrokeWidth": 2.5,
            "labelFontSize": 15, "labelColor": "#333333", "labelOffset": 33, "labelLimit": 400,
            "rowPadding": 1.8, "padding": 0
          }
        },
        "strokeDash": {
          "field": "s", "type": "nominal",
          "scale": {
            "domain": ["EEX_BASE_JAHR CH 2023 (EUR/MWh)", "EEX_BASE_JAHR CH 2024 (EUR/MWh)", "EEX_BASE_JAHR CH 2025 (EUR/MWh)", "ICE_Coal_ARA API2 2023 (EUR)", "ICE_Crude_Oil Brent 2023 (USD)", "ICE_EUA_CO2 Europe_Regulations 2022 (EUR)", "ICE_EUA_CO2 Europe_Regulations 2023 (EUR)", "ICE_Natural_Gas TTF 2023 (EUR)"],
            "range": [[18, 9, 2, 8, 2, 7], [18, 9, 2, 8, 2, 7], [6, 3.5], [2, 8], [18, 9, 2, 8], [1, 0], [1, 0], [18, 9, 2, 8, 2, 7]]
          },
          "legend": {
            "title": null, "orient": "none", "legendX": 639, "legendY": 41,
            "symbolType": "M-5.5,0L5.5,0", "symbolSize": 144, "symbolStrokeWidth": 2.5,
            "labelFontSize": 15, "labelColor": "#333333", "labelOffset": 33, "labelLimit": 400,
            "rowPadding": 1.8, "padding": 0
          }
        }
      }
    },
    {
      "mark": {"type": "point", "shape": "triangle-up", "filled": true, "color": "black"},
      "transform": [{"filter": "false"}],
      "encoding": {
        "shape": {
          "field": "k", "type": "nominal",
          "scale": {"domain": ["Kommentare"], "range": ["triangle-up"]},
          "legend": {
            "title": null, "orient": "none", "legendX": 639, "legendY": 186,
            "symbolSize": 115, "symbolFillColor": "black", "symbolStrokeColor": "black", "symbolStrokeWidth": 0,
            "labelFontSize": 15, "labelColor": "#333333", "labelOffset": 32, "padding": 0
          }
        }
      }
    }
  ]
}
